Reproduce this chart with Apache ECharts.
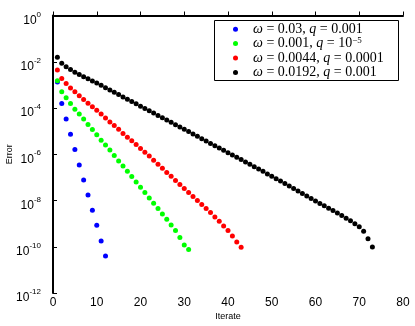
<!DOCTYPE html>
<html>
<head>
<meta charset="utf-8">
<script src="https://cdn.jsdelivr.net/npm/echarts@6/dist/echarts.min.js"></script>
<style>
html, body { margin: 0; padding: 0; background: #fff; }
#main { width: 415px; height: 326px; }
</style>
</head>
<body>
<div id="main"></div>
<script>
// series labels (legend)
var names = ['w=0.03, q=0.001', 'w=0.001, q=1e-5', 'w=0.0044, q=0.0001', 'w=0.0192, q=0.001'];
var legendText = [
    '{sp|}{i|ω} = 0.03, {i|q} = 0.001',
    '{sp|}{i|ω} = 0.001, {i|q} = 10{sup|−5}',
    '{sp|}{i|ω} = 0.0044, {i|q} = 0.0001',
    '{sp|}{i|ω} = 0.0192, {i|q} = 0.001'
];
var colors = ['#0000ff', '#00ff00', '#ff0000', '#000000'];

// log10(error) for iterate 1, 2, 3, ...
var blueLog = [-2.88, -3.80, -4.48, -5.14, -5.79, -6.46, -7.11, -7.76, -8.42, -9.07, -9.75, -10.40];
var greenLog = [-2.82, -3.30, -3.56, -3.80, -4.05, -4.26, -4.48, -4.71, -4.93, -5.16,
    -5.39, -5.60, -5.82, -6.05, -6.29, -6.51, -6.73, -6.96, -7.20, -7.43,
    -7.65, -7.89, -8.12, -8.35, -8.58, -8.81, -9.06, -9.30, -9.60, -9.92, -10.12];
var redLog = [-2.36, -2.72, -2.94, -3.13, -3.30, -3.47, -3.63, -3.79, -3.95, -4.10,
    -4.26, -4.43, -4.60, -4.76, -4.92, -5.10, -5.26, -5.42, -5.58, -5.75,
    -5.91, -6.08, -6.26, -6.43, -6.61, -6.79, -6.95, -7.13, -7.31, -7.48,
    -7.65, -7.83, -8.00, -8.17, -8.35, -8.52, -8.71, -8.90, -9.10, -9.30,
    -9.53, -9.79, -10.02];
var blackLog = [-1.81, -2.07, -2.22, -2.33, -2.45, -2.55, -2.65, -2.74, -2.83, -2.92,
    -3.02, -3.12, -3.22, -3.32, -3.42, -3.52, -3.62, -3.72, -3.82, -3.92,
    -4.02, -4.12, -4.22, -4.32, -4.42, -4.52, -4.62, -4.72, -4.82, -4.92,
    -5.02, -5.12, -5.22, -5.33, -5.43, -5.53, -5.63, -5.73, -5.83, -5.93,
    -6.03, -6.13, -6.23, -6.33, -6.43, -6.54, -6.64, -6.74, -6.85, -6.95,
    -7.06, -7.16, -7.27, -7.37, -7.48, -7.59, -7.70, -7.81, -7.91, -8.02,
    -8.13, -8.23, -8.33, -8.43, -8.54, -8.65, -8.77, -8.88, -9.00, -9.13,
    -9.33, -9.65, -10.01];

// axis ranges
var xMin = 0, xMax = 80, xStep = 10;
var yMin = -12, yMax = 0, yStep = 2;

var allLog = [blueLog, greenLog, redLog, blackLog];

function toPoints(arr) {
    var pts = [];
    for (var i = 0; i < arr.length; i++) {
        pts.push([i + 1, arr[i]]);
    }
    return pts;
}

var myChart = echarts.init(document.getElementById('main'), null, {renderer: 'canvas'});

var series = [];
for (var k = 0; k < allLog.length; k++) {
    series.push({
        name: names[k],
        type: 'scatter',
        symbol: 'circle',
        symbolSize: 5,
        itemStyle: {color: colors[k], opacity: 1},
        data: toPoints(allLog[k]),
        z: 2 + k
    });
}

var option = {
    animation: false,
    color: colors,
    grid: {
        left: 53,
        right: 12,
        top: 15.5,
        bottom: 33,
        containLabel: false,
        outerBoundsMode: 'none'
    },
    legend: {
        orient: 'vertical',
        left: 233,
        top: 22,
        itemWidth: 5,
        itemHeight: 5,
        itemGap: 0,
        icon: 'circle',
        padding: 0,
        data: names,
        formatter: function (name) {
            return legendText[names.indexOf(name)];
        },
        textStyle: {
            fontFamily: 'Liberation Serif',
            fontSize: 14,
            lineHeight: 14.4,
            color: '#000',
            rich: {
                sp: {width: 10, lineHeight: 14.4},
                i: {fontStyle: 'italic', fontFamily: 'Liberation Serif', fontSize: 14, lineHeight: 14.4},
                sup: {fontFamily: 'Liberation Serif', fontSize: 9, lineHeight: 9, verticalAlign: 'top'}
            }
        }
    },
    graphic: [{
        type: 'rect',
        shape: {x: 214.5, y: 20.5, width: 184, height: 60},
        style: {fill: null, stroke: '#000', lineWidth: 1},
        z: 1
    }],
    xAxis: {
        type: 'value',
        min: xMin,
        max: xMax,
        interval: xStep,
        name: 'Iterate',
        nameLocation: 'middle',
        nameGap: 19,
        nameMoveOverlap: false,
        nameTextStyle: {fontFamily: 'Liberation Sans', fontSize: 9, color: '#000'},
        axisLine: {lineStyle: {color: '#000', width: 2}},
        axisTick: {inside: true, length: 4, lineStyle: {color: '#000', width: 1}},
        axisLabel: {margin: 4, fontFamily: 'Liberation Sans', fontSize: 12, color: '#000'},
        splitLine: {show: false}
    },
    yAxis: {
        type: 'value',
        min: yMin,
        max: yMax,
        interval: yStep,
        name: 'Error',
        nameLocation: 'middle',
        nameGap: 39,
        nameMoveOverlap: false,
        nameTextStyle: {fontFamily: 'Liberation Sans', fontSize: 9, color: '#000'},
        axisLine: {lineStyle: {color: '#000', width: 2}},
        axisTick: {inside: true, length: 4, lineStyle: {color: '#000', width: 1}},
        axisLabel: {
            margin: 12,
            padding: [6, 0, 0, 0],
            color: '#000',
            fontFamily: 'Liberation Sans',
            fontSize: 12,
            formatter: function (v) {
                return '{b|10}{sup|' + (v === 0 ? '0' : String(v)) + '}';
            },
            rich: {
                b: {fontFamily: 'Liberation Sans', fontSize: 12, lineHeight: 16, verticalAlign: 'bottom', color: '#000'},
                sup: {fontFamily: 'Liberation Sans', fontSize: 8, lineHeight: 8, verticalAlign: 'top', color: '#000'}
            }
        },
        splitLine: {show: false}
    },
    series: series
};

myChart.setOption(option);
</script>
</body>
</html>
